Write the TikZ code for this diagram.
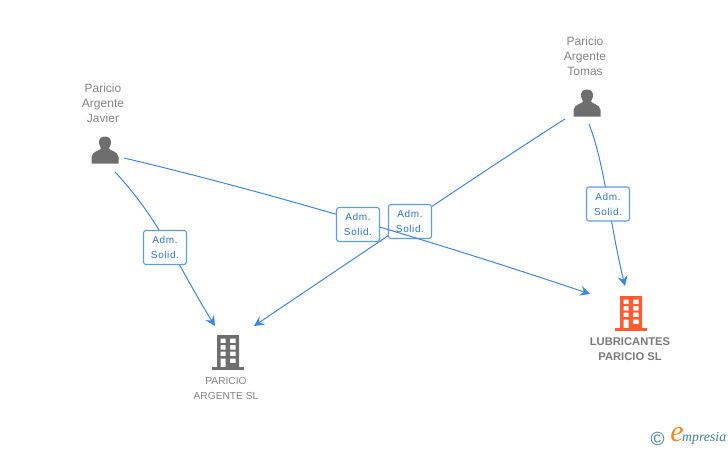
\documentclass[tikz,border=0pt]{standalone}
\usepackage{fontspec}
\setmainfont{Liberation Sans}
\newfontfamily\logofont{Liberation Serif}
\usetikzlibrary{arrows.meta}
\definecolor{edgeblue}{HTML}{3F85E3}
\definecolor{boxblue}{HTML}{5E9BE8}
\definecolor{labelblue}{HTML}{2E74CC}
\definecolor{icongray}{HTML}{6E6E6E}
\definecolor{textgray}{HTML}{848484}
\definecolor{boldgray}{HTML}{7A7A7A}
\definecolor{iconorange}{HTML}{FF5C33}
\definecolor{logoteal}{HTML}{3F7F96}
\definecolor{logoorange}{HTML}{F08A24}
\tikzset{
  x=1pt,y=-1pt,
  edge/.style={draw=edgeblue,line width=1pt,-{Stealth[length=10pt,width=10pt,inset=3.5pt]}},
  rolebox/.style={draw=boxblue,line width=1.1pt,rounded corners=2.5pt,fill=white,minimum width=43pt,minimum height=34pt,inner sep=0pt,align=center,text=labelblue,font=\fontsize{10}{15}\selectfont\addfontfeature{LetterSpace=6}},
  person/.style={align=center,text=textgray,font=\fontsize{12}{15}\selectfont},
  company/.style={align=center,text=textgray,font=\fontsize{10.2}{15}\selectfont},
  companybold/.style={align=center,text=boldgray,font=\fontsize{11.2}{15}\selectfont\bfseries},
  personicon/.pic={
    \fill[icongray] (0,-14.5) .. controls (5,-14.5) and (6.6,-11) .. (5.8,-7)
      .. controls (5.3,-4.8) and (4.2,-4) .. (4,-2.5)
      .. controls (4,-0.5) and (13,0) .. (13.5,6) -- (13.5,12.5) -- (-13.5,12.5) -- (-13.5,6)
      .. controls (-13,0) and (-4,-0.5) .. (-4,-2.5)
      .. controls (-4.2,-4) and (-5.3,-4.8) .. (-5.8,-7)
      .. controls (-6.6,-11) and (-5,-14.5) .. (0,-14.5) -- cycle;
  },
  pics/buildingicon/.style={code={
    \fill[#1,even odd rule] (-11,-17) rectangle (11,15)
      (-7.5,-13.5) rectangle (-2.5,-9) (2,-13.5) rectangle (7.5,-9)
      (-7.5,-7) rectangle (-2.5,-2.5) (2,-7) rectangle (7.5,-2.5)
      (-7.5,-0.5) rectangle (-2.5,4) (2,-0.5) rectangle (7.5,4)
      (-7.5,6.5) rectangle (-2.5,15) (2,6.5) rectangle (7.5,11);
    \fill[#1] (-16,15) rectangle (16,17.5);
  }},
}
\begin{document}
\begin{tikzpicture}
\useasboundingbox (0,0) rectangle (728,450);
% icon anchors
\coordinate (javier) at (105,151);
\coordinate (tomas) at (587,104);
\coordinate (argente) at (228,352);
\coordinate (lubri) at (631,313);
\coordinate (j1) at (115,172);
\coordinate (j2) at (124,158);
\coordinate (t1) at (565,119);
\coordinate (t2) at (589,124);
\coordinate (a1) at (215,326);
\coordinate (a2) at (254,326);
\coordinate (l1) at (590,294);
\coordinate (l2) at (625,286);

\pic at (javier) {personicon};
\pic at (tomas) {personicon};
\pic at (argente) {buildingicon=icongray};
\pic at (lubri) {buildingicon=iconorange};

\node[person] (njavier) at (103,103) {Paricio\\Argente\\Javier};
\node[person] (ntomas) at (585,56) {Paricio\\Argente\\Tomas};
\node[company] (nargente) at (226,388.5) {PARICIO\\ARGENTE SL};
\node[companybold] (nlubri) at (630,349.5) {LUBRICANTES\\PARICIO SL};

% connectors
\draw[edge] (t1) .. controls (500,160) and (340,268) .. (a2);
\node[rolebox] (b2) at (410,221.5) {Adm.\\Solid.};
\draw[edge] (j2) .. controls (260,190) and (430,240) .. (l1);
\node[rolebox] (b1) at (358,224.5) {Adm.\\Solid.};
\draw[edge] (j1) .. controls (160,220) and (180,270) .. (a1);
\node[rolebox] (b3) at (165,247.5) {Adm.\\Solid.};
\draw[edge] (t2) .. controls (605,165) and (610,225) .. (l2);
\node[rolebox] (b4) at (608,204) {Adm.\\Solid.};

% logo
\node[text=logoteal,font=\fontsize{19}{19}\selectfont,inner sep=0pt] (copy) at (657.5,438.5) {©};
\node[text=logoorange,font=\logofont\fontsize{30}{30}\selectfont\itshape,inner sep=0pt] (logoe) at (677,435) {e};
\node[text=logoteal,font=\logofont\fontsize{13.8}{13.8}\selectfont\itshape,inner sep=0pt,anchor=west] (logot) at (682,438) {mpresia};
\end{tikzpicture}
\end{document}
